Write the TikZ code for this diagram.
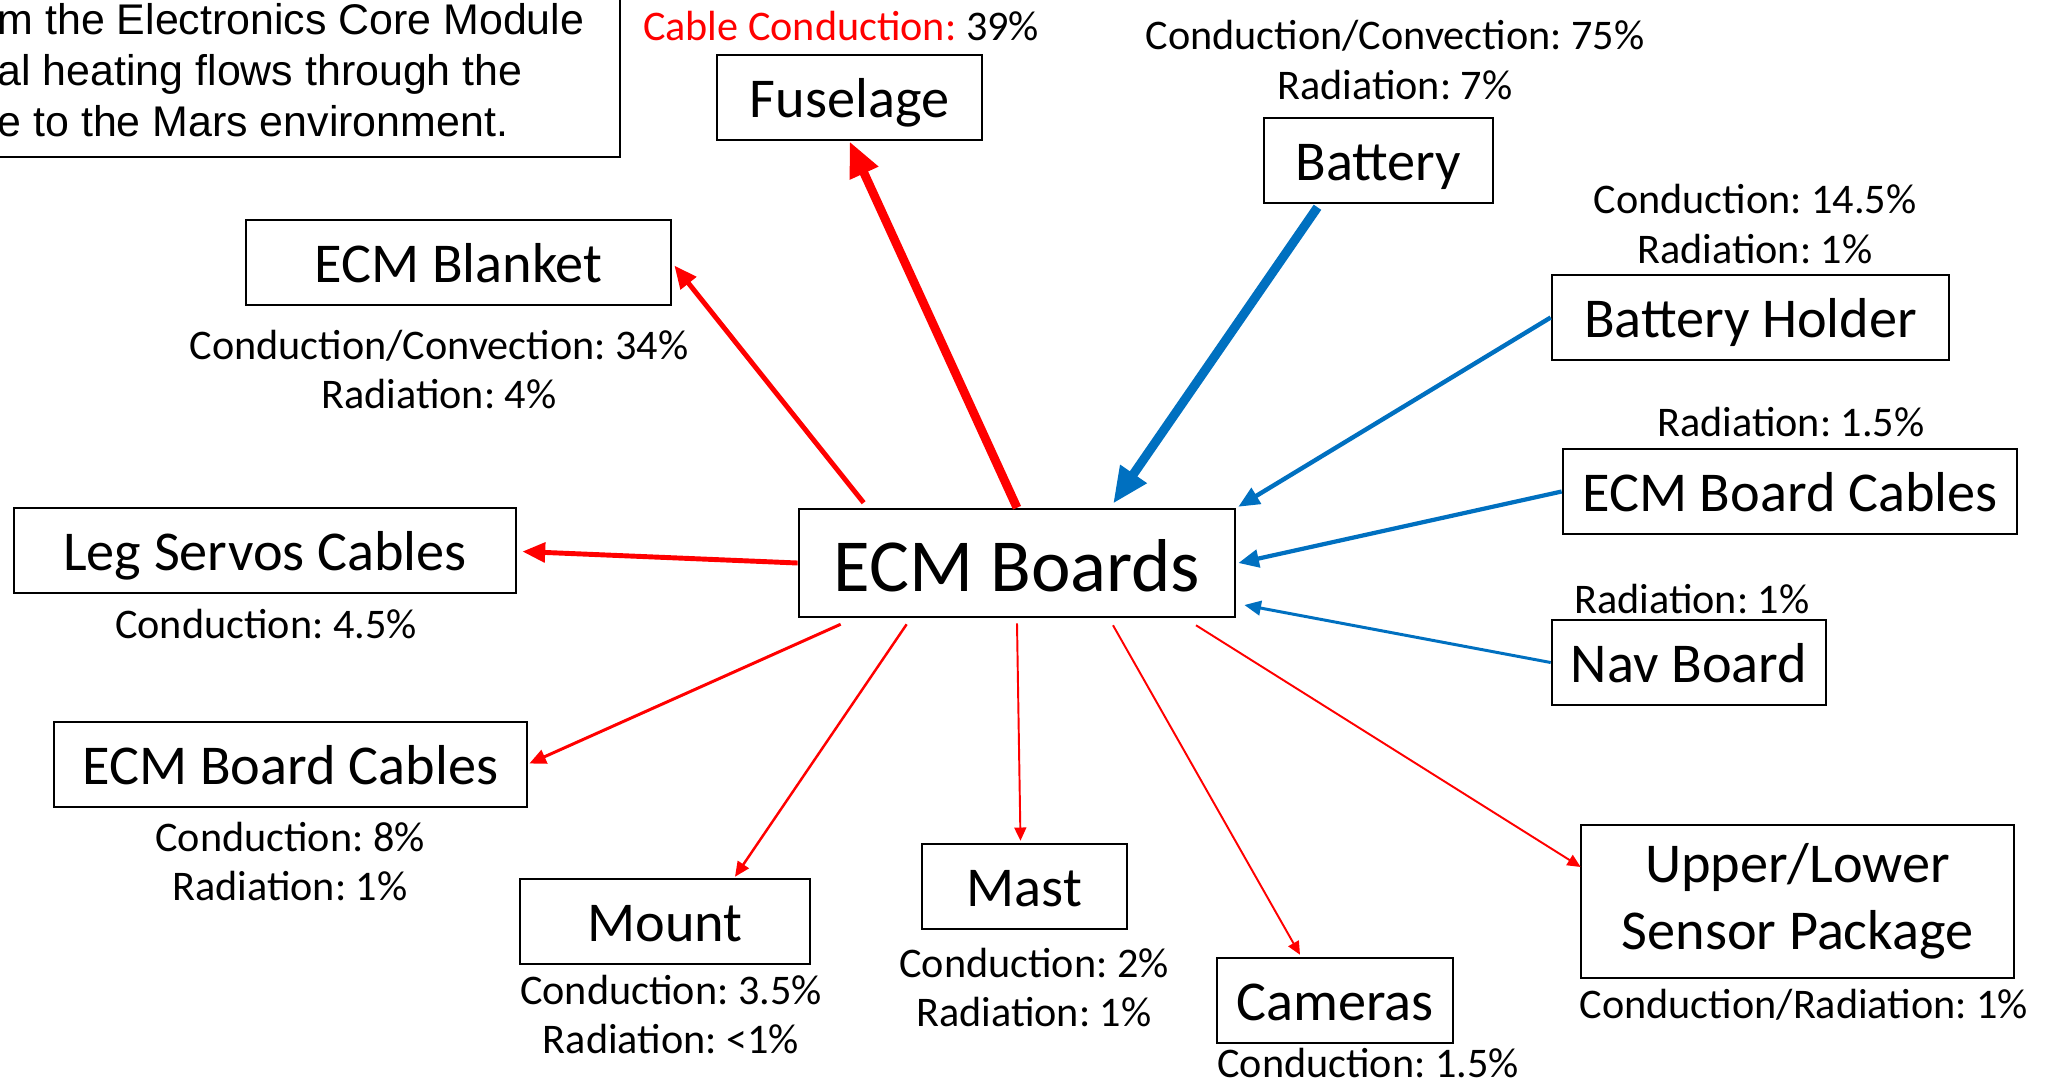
\documentclass[tikz,border=0pt]{standalone}
\usepackage{fontspec}
\setmainfont{Carlito}
\newfontfamily\arialfont{Liberation Sans}
\usetikzlibrary{arrows.meta, positioning, calc}
\frenchspacing

\definecolor{hotred}{RGB}{255,0,0}
\definecolor{coolblue}{RGB}{0,112,192}

\tikzset{
  boxbase/.style={draw, line width=0.7pt, minimum height=0.85cm, inner sep=0pt,
    align=center, font=\fontsize{16}{19}\selectfont},
  box/.style={boxbase, text height=13.6pt, text depth=2.4pt},
  lbl/.style={inner sep=0pt, align=center, font=\fontsize{12}{14.2}\selectfont},
  hot/.style={draw=hotred, -{Triangle[length=2pt 3.2, width=2pt 2.5]}},
  cold/.style={draw=coolblue, -{Triangle[length=2pt 3.2, width=2pt 2.5]}}
}

\begin{document}
\begin{tikzpicture}[x=0.01cm, y=-0.01cm]
        \useasboundingbox (0,0) rectangle (2054,1084);
        \clip (0,0) rectangle (2054,1084);

        % 左上角说明框 (被裁掉一部分)
        \draw[line width=0.7pt] (-20,-20) rectangle (620,157);
        \node[anchor=north west, inner sep=0pt, align=left,
              font=\arialfont\fontsize{12.2}{14.46}\selectfont] (note) at (-3,3)
            {m the Electronics Core Module\\al heating flows through the\\e to the Mars environment.};

        % --- 中心节点 ---
        \node[boxbase, minimum width=4.36cm, minimum height=1.08cm, text height=19.6pt,
              text depth=3.2pt, font=\fontsize{21.3}{25}\selectfont] (boards) at (1017,563) {ECM Boards};

        % --- 各个部件 ---
        \node[box, minimum width=2.65cm] (fuse) at (849.5,97.5) {Fuselage};
        \node[box, minimum width=2.29cm] (battery) at (1378.5,160.5) {Battery};
        \node[box, minimum width=4.25cm] (blanket) at (458.5,262.5) {ECM Blanket};
        \node[box, minimum width=3.97cm] (holder) at (1750.5,317.5) {Battery Holder};
        \node[box, minimum width=4.54cm] (cabR) at (1790,491.5) {ECM Board Cables};
        \node[box, minimum width=5.02cm] (leg) at (265,550.5) {Leg Servos Cables};
        \node[box, minimum width=2.74cm] (nav) at (1689,662.5) {Nav Board};
        \node[box, minimum width=4.73cm] (cabL) at (290.5,764.5) {ECM Board Cables};
        \node[box, minimum width=2.90cm] (mount) at (665,921.5) {Mount};
        \node[box, minimum width=2.05cm] (mast) at (1024.5,886.5) {Mast};
        \node[box, minimum width=2.36cm] (cam) at (1335,1000.5) {Cameras};
        \node[boxbase, minimum width=4.33cm, minimum height=1.53cm] (sensor) at (1797.5,901.5)
            {Upper/Lower\\Sensor Package};

        % --- 百分比标注 ---
        \node[lbl] (fuseLbl) at (841,26) {\textcolor{hotred}{Cable Conduction:} 39\%};
        \node[lbl] (batteryLbl) at (1395,60) {Conduction/Convection: 75\%\\Radiation: 7\%};
        \node[lbl] (blanketLbl) at (439,369.5) {Conduction/Convection: 34\%\\Radiation: 4\%};
        \node[lbl] (holderLbl) at (1755,224) {Conduction: 14.5\%\\Radiation: 1\%};
        \node[lbl] (cabRLbl) at (1791,422) {Radiation: 1.5\%};
        \node[lbl] (legLbl) at (266,624) {Conduction: 4.5\%};
        \node[lbl] (navLbl) at (1692,599) {Radiation: 1\%};
        \node[lbl] (cabLLbl) at (290,861.5) {Conduction: 8\%\\Radiation: 1\%};
        \node[lbl] (mountLbl) at (671,1014.5) {Conduction: 3.5\%\\Radiation: <1\%};
        \node[lbl] (mastLbl) at (1034,987.5) {Conduction: 2\%\\Radiation: 1\%};
        \node[lbl] (camLbl) at (1368,1063) {Conduction: 1.5\%};
        \node[lbl] (sensorLbl) at (1804,1005) {Conduction/Radiation: 1\%};

        % --- 流出 (红) ---
        \draw[hot, line width=2.5pt] (boards.north) -- (fuse.south);
        \draw[hot, line width=1.4pt] ($(boards.north west)+(66,-5)$) -- ($(blanket.east)+(2,3)$);
        \draw[hot, line width=1.4pt] (boards.west) -- ($(leg.east)+(5,1)$);
        \draw[hot, line width=0.85pt] ($(boards.south west)+(43,6)$) -- ($(cabL.east)+(1,-1)$);
        \draw[hot, line width=0.7pt] ($(boards.south west)+(109,6)$) -- ($(mount.north)+(70,-1)$);
        \draw[hot, line width=0.55pt] ($(boards.south)+(0,5)$) -- ($(mast.north)+(-4,-2)$);
        \draw[hot, line width=0.55pt] ($(boards.south)+(96,7)$) -- ($(cam.north)+(-35,-2)$);
        \draw[hot, line width=0.55pt] ($(boards.south)+(179,7)$) -- ($(sensor.west)+(1,-34.5)$);

        % --- 流入 (蓝) ---
        \draw[cold, line width=2.6pt] ($(battery.south)+(-61,3)$) -- ($(boards.north)+(96,-4)$);
        \draw[cold, line width=1.25pt] (holder.west) -- ($(boards.north east)+(2,-1)$);
        \draw[cold, line width=1.2pt] (cabR.west) -- ($(boards.east)+(2,0)$);
        \draw[cold, line width=0.85pt] (nav.west) -- ($(boards.east)+(8,42)$);

    \end{tikzpicture}
\end{document}
